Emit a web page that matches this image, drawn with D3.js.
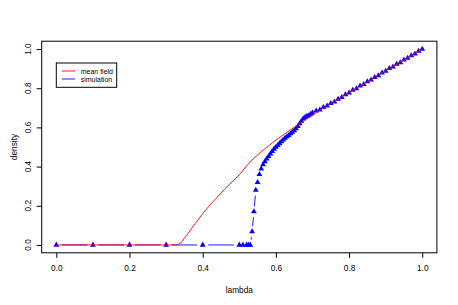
<!DOCTYPE html>
<html>
<head>
<meta charset="utf-8">
<script src="https://cdn.jsdelivr.net/npm/d3@7"></script>
<style>
  html, body { margin: 0; padding: 0; background: #fff; }
  svg { display: block; font-family: "Liberation Sans", Arial, Helvetica, sans-serif; }
</style>
</head>
<body>
<svg id="chart" width="458" height="305"></svg>
<script>
// ---- data ----
const xTicks = [0, 0.2, 0.4, 0.6, 0.8, 1.0];
const yTicks = [0, 0.2, 0.4, 0.6, 0.8, 1.0];
const xLabel = "lambda";
const yLabel = "density";
const seriesNames = ["mean field", "simulation"];

const mfLambda = [0, 0.1, 0.2, 0.3, 0.33, 0.34, 0.35, 0.36, 0.38, 0.40, 0.42, 0.44, 0.46, 0.48, 0.50,
  0.52, 0.54, 0.56, 0.58, 0.60, 0.62, 0.64, 0.66, 0.68, 0.70, 0.75, 0.80, 0.85, 0.90, 0.95, 1.0];
const mfDensity = [0, 0, 0, 0, 0, 0.01, 0.035, 0.06, 0.11, 0.16, 0.204, 0.245, 0.285, 0.322, 0.358,
  0.404, 0.443, 0.476, 0.506, 0.535, 0.562, 0.588, 0.613, 0.638, 0.663, 0.722, 0.778, 0.833, 0.889, 0.944, 1.0];

const simLambda = [0, 0.1, 0.2, 0.3, 0.4, 0.5, 0.51, 0.52, 0.525, 0.53,
  0.535, 0.54, 0.545, 0.55, 0.555, 0.56, 0.565, 0.57, 0.575, 0.58, 0.585, 0.59, 0.595, 0.6,
  0.605, 0.61, 0.615, 0.62, 0.625, 0.63, 0.635, 0.64, 0.645, 0.65, 0.655, 0.66, 0.665, 0.67,
  0.675, 0.68, 0.685, 0.69, 0.695, 0.7,
  0.71, 0.72, 0.73, 0.74, 0.75, 0.76, 0.77, 0.78, 0.79, 0.8,
  0.81, 0.82, 0.83, 0.84, 0.85, 0.86, 0.87, 0.88, 0.89, 0.9,
  0.91, 0.92, 0.93, 0.94, 0.95, 0.96, 0.97, 0.98, 0.99, 1.0];
const simDensity = [0, 0, 0, 0, 0, 0, 0, 0, 0, 0,
  0.068, 0.17, 0.28, 0.32, 0.36, 0.388, 0.41, 0.425, 0.44, 0.452, 0.465, 0.478, 0.49, 0.50,
  0.508, 0.518, 0.528, 0.536, 0.546, 0.553, 0.56, 0.568, 0.576, 0.584, 0.594, 0.606, 0.62, 0.632,
  0.645, 0.652, 0.658, 0.66, 0.668, 0.674,
  0.684, 0.69, 0.702, 0.71, 0.723, 0.731, 0.745, 0.754, 0.768, 0.776,
  0.79, 0.798, 0.812, 0.82, 0.834, 0.843, 0.856, 0.864, 0.878, 0.887,
  0.901, 0.909, 0.923, 0.931, 0.945, 0.954, 0.967, 0.976, 0.989, 1.0];

// ---- layout ----
const svg = d3.select("#chart");
const x = d3.scaleLinear().domain([-0.04, 1.04]).range([41.7, 436.9]);
const y = d3.scaleLinear().domain([-0.04, 1.04]).range([252.8, 41.2]);
const fontSize = 8.3;

// axes
const xAxis = svg.append("g").attr("transform", "translate(0,252.8)")
  .call(d3.axisBottom(x).tickValues(xTicks).tickFormat(d3.format(".1f")).tickSize(5).tickPadding(9));
xAxis.select(".domain").remove();
xAxis.selectAll("text").attr("font-size", fontSize).attr("font-family", null).attr("fill", "#000").attr("dy", null)
  .attr("y", 18.2);
xAxis.selectAll("line").attr("stroke", "#000");

const yAxis = svg.append("g").attr("transform", "translate(41.7,0)")
  .call(d3.axisLeft(y).tickValues(yTicks).tickFormat("").tickSize(5));
yAxis.select(".domain").remove();
yAxis.selectAll("line").attr("stroke", "#000");

svg.append("g").selectAll("text").data(yTicks).join("text")
  .attr("transform", d => `translate(30.8,${y(d)}) rotate(-90)`)
  .attr("text-anchor", "middle").attr("font-size", fontSize).attr("fill", "#000")
  .text(d3.format(".1f"));

// frame
svg.append("rect").attr("x", 41.7).attr("y", 41.2).attr("width", 436.9 - 41.7).attr("height", 252.8 - 41.2)
  .attr("fill", "none").attr("stroke", "#000").attr("stroke-width", 1);

// axis titles
svg.append("text").attr("x", (41.7 + 436.9) / 2).attr("y", 292.5).attr("text-anchor", "middle")
  .attr("font-size", fontSize).text(xLabel);
svg.append("text").attr("transform", `translate(17,${(41.2 + 252.8) / 2}) rotate(-90)`)
  .attr("text-anchor", "middle").attr("font-size", fontSize).text(yLabel);

// simulation: type "b" style segments with gaps around points
const simPts = simLambda.map((l, i) => [x(l), y(simDensity[i])]);
const gap = 5.5;
const segs = [];
for (let i = 0; i < simPts.length - 1; i++) {
  const [x0, y0] = simPts[i], [x1, y1] = simPts[i + 1];
  const dx = x1 - x0, dy = y1 - y0, len = Math.hypot(dx, dy);
  if (len > 2 * gap) {
    const ux = dx / len, uy = dy / len;
    segs.push([x0 + ux * gap, y0 + uy * gap, x1 - ux * gap, y1 - uy * gap]);
  }
}
svg.append("g").selectAll("line").data(segs).join("line")
  .attr("x1", d => d[0]).attr("y1", d => d[1]).attr("x2", d => d[2]).attr("y2", d => d[3])
  .attr("stroke", "#0000ff").attr("stroke-width", 0.9);

const hw = 2.9, r = hw / Math.cos(Math.PI / 6);
svg.append("g").selectAll("path").data(simPts).join("path")
  .attr("d", d => `M${d[0]},${d[1] - r}L${d[0] + hw},${d[1] + r / 2}L${d[0] - hw},${d[1] + r / 2}Z`)
  .attr("fill", "#0000ff");

// mean field line
const line = d3.line().x(d => x(d[0])).y(d => y(d[1]));
svg.append("path").datum(mfLambda.map((l, i) => [l, mfDensity[i]]))
  .attr("d", line).attr("fill", "none").attr("stroke", "#ff0000").attr("stroke-width", 0.9);

// legend
const lg = svg.append("g");
lg.append("rect").attr("x", 56.3).attr("y", 63).attr("width", 60.4).attr("height", 24.3)
  .attr("fill", "#fff").attr("stroke", "#000").attr("stroke-width", 1);
const legColors = ["#ff0000", "#0000ff"];
seriesNames.forEach((name, i) => {
  const yy = 71 + i * 8;
  lg.append("line").attr("x1", 62).attr("x2", 75).attr("y1", yy).attr("y2", yy)
    .attr("stroke", legColors[i]).attr("stroke-width", 0.9);
  lg.append("text").attr("x", 80.7).attr("y", yy + 2.5).attr("font-size", 7).text(name);
});
</script>
</body>
</html>
